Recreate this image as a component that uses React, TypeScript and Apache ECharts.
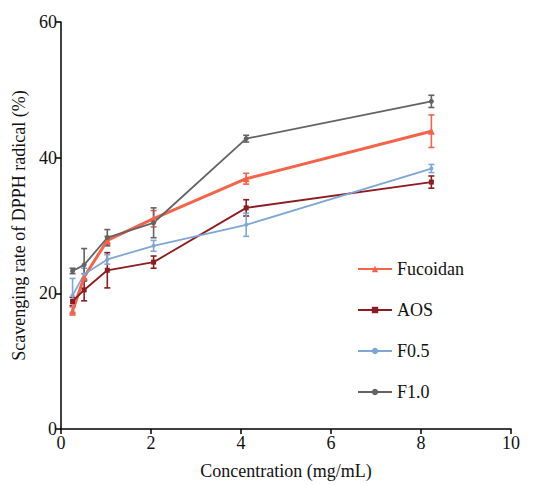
import React, { useEffect, useRef } from "react";
import * as echarts from "echarts";

const concentrations = [0.25, 0.5, 1, 2, 4, 8];
const fucoidan = [17.4, 22.4, 27.8, 31.0, 36.9, 43.9];
const fucoidanErr = [0.6, 0.5, 0.6, 1.2, 0.8, 2.4];
const aos = [18.8, 20.5, 23.4, 24.6, 32.6, 36.4];
const aosErr = [0.6, 1.6, 2.6, 0.9, 1.2, 0.9];
const f05 = [19.7, 22.8, 25.0, 27.0, 30.1, 38.4];
const f05Err = [2.5, 0.9, 0.7, 0.8, 1.7, 0.6];
const f10 = [23.3, 24.2, 28.2, 30.4, 42.8, 48.3];
const f10Err = [0.4, 2.4, 1.2, 2.2, 0.5, 0.9];
const xTicks = [0, 2, 4, 6, 8, 10];
const yTicks = [0, 20, 40, 60];

const FONT = "'Liberation Serif', 'Times New Roman', serif";

type S = { name: string; vals: number[]; errs: number[]; color: string; width: number; symbol: string; size: number };

const seriesDefs: S[] = [
  { name: "Fucoidan", vals: fucoidan, errs: fucoidanErr, color: "#f4634a", width: 3, symbol: "triangle", size: 7 },
  { name: "AOS", vals: aos, errs: aosErr, color: "#8c1c1f", width: 1.8, symbol: "rect", size: 5 },
  { name: "F0.5", vals: f05, errs: f05Err, color: "#7ea6d6", width: 1.8, symbol: "circle", size: 4 },
  { name: "F1.0", vals: f10, errs: f10Err, color: "#636363", width: 1.8, symbol: "circle", size: 5 },
];

export default function App() {
  const ref = useRef<HTMLDivElement>(null);
  useEffect(() => {
    if (!ref.current) return;
    const chart = echarts.init(ref.current, null, { renderer: "svg" });
    const lineSeries: any[] = [];
    const errSeries: any[] = [];
    seriesDefs.forEach((s) => {
      lineSeries.push({
        name: s.name,
        type: "line",
        xAxisIndex: 1,
        data: concentrations.map((c, i) => [c, s.vals[i]]),
        symbol: s.symbol,
        symbolSize: s.size,
        color: s.color,
        lineStyle: { color: s.color, width: s.width },
        itemStyle: { color: s.color },
        z: 3,
      });
      errSeries.push({
        name: s.name + " error",
        type: "custom",
        xAxisIndex: 1,
        color: s.color,
        itemStyle: { color: s.color },
        data: concentrations.map((c, i) => [c, s.vals[i] - s.errs[i], s.vals[i] + s.errs[i]]),
        renderItem: (params: any, api: any) => {
          const lo = api.coord([api.value(0), api.value(1)]);
          const hi = api.coord([api.value(0), api.value(2)]);
          const hw = 3;
          const style = { stroke: s.color, lineWidth: 1.6, fill: "none" };
          return {
            type: "group",
            children: [
              { type: "line", shape: { x1: lo[0], y1: lo[1], x2: hi[0], y2: hi[1] }, style },
              { type: "line", shape: { x1: lo[0] - hw, y1: lo[1], x2: lo[0] + hw, y2: lo[1] }, style },
              { type: "line", shape: { x1: hi[0] - hw, y1: hi[1], x2: hi[0] + hw, y2: hi[1] }, style },
            ],
          };
        },
        z: 2,
      });
    });

    chart.setOption({
      animation: false,
      backgroundColor: "#ffffff",
      textStyle: { fontFamily: FONT },
      grid: { left: 61, right: 25, top: 22, bottom: 44, containLabel: false },
      legend: {
        orient: "vertical",
        left: 352,
        top: 255,
        itemWidth: 34,
        itemHeight: 8,
        itemGap: 23,
        data: seriesDefs.map((s) => s.name),
        textStyle: { fontFamily: FONT, fontSize: 18, color: "#111" },
      },
      xAxis: [
        {
          type: "value",
          min: 0,
          max: 10,
          interval: 2,
          name: "Concentration (mg/mL)",
          nameLocation: "middle",
          nameGap: 33,
          nameTextStyle: { fontFamily: FONT, fontSize: 18, color: "#111" },
          axisLine: { lineStyle: { color: "#000", width: 1.5 } },
          axisTick: { show: true, length: 5, lineStyle: { color: "#000", width: 1.5 } },
          axisLabel: { fontFamily: FONT, fontSize: 18, color: "#111", margin: 5, formatter: (v: number) => (xTicks.includes(v) ? String(v) : "") },
          splitLine: { show: false },
        },
        {
          type: "value",
          min: 0,
          max: 9.72,
          show: false,
          splitLine: { show: false },
        },
      ],
      yAxis: {
        type: "value",
        min: 0,
        max: 60,
        interval: 20,
        name: "Scavenging rate of DPPH radical (%)",
        nameLocation: "middle",
        nameGap: 33,
        nameTextStyle: { fontFamily: FONT, fontSize: 18, color: "#111" },
        axisLine: { show: true, lineStyle: { color: "#000", width: 1.5 } },
        axisTick: { show: true, length: 5, lineStyle: { color: "#000", width: 1.5 } },
        axisLabel: { fontFamily: FONT, fontSize: 18, color: "#111", margin: 4, formatter: (v: number) => (yTicks.includes(v) ? String(v) : "") },
        splitLine: { show: false },
      },
      series: [...lineSeries, ...errSeries],
    });
    return () => chart.dispose();
  }, []);
  return <div ref={ref} style={{ width: 536, height: 485, position: "absolute", left: 0, top: 0 }} />;
}
